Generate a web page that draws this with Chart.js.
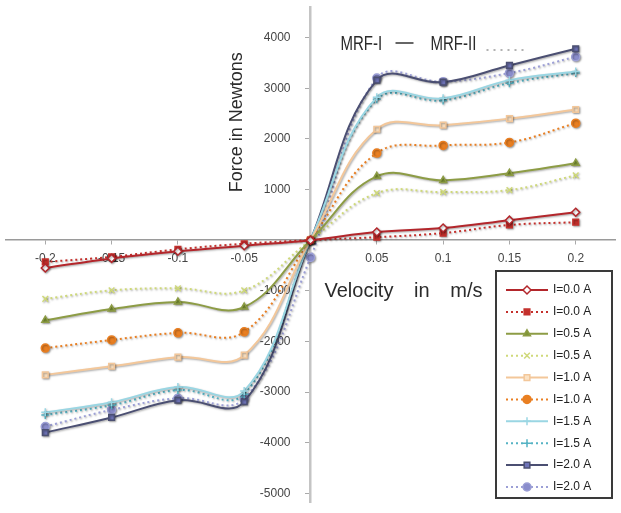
<!DOCTYPE html>
<html>
<head>
<meta charset="utf-8">
<script src="https://cdn.jsdelivr.net/npm/chart.js@4.4.1/dist/chart.umd.min.js"></script>
<style>
  body { margin: 0; background: #fff; }
  canvas { display: block; }
</style>
</head>
<body>
<canvas id="myChart" width="621" height="513"></canvas>
<script>
// Datos: velocidad (m/s) en el eje x
const velocity = [-0.2, -0.15, -0.1, -0.05, 0, 0.05, 0.1, 0.15, 0.2];

// Fuerza (N) para cada corriente, MRF-I (linea continua) y MRF-II (punteada)
const mrf1_i00 = [-550, -360, -220, -110, 0, 160, 240, 395, 550];
const mrf2_i00 = [-430, -330, -180, -70, 0, 60, 140, 300, 355];
const mrf1_i05 = [-1580, -1360, -1220, -1320, 0, 1260, 1180, 1320, 1520];
const mrf2_i05 = [-1160, -990, -950, -990, 0, 930, 950, 990, 1280];
const mrf1_i10 = [-2660, -2490, -2310, -2270, 0, 2190, 2270, 2400, 2580];
const mrf2_i10 = [-2130, -1970, -1830, -1810, 0, 1720, 1870, 1930, 2310];
const mrf1_i15 = [-3400, -3200, -2900, -2980, 0, 2820, 2800, 3160, 3330];
const mrf2_i15 = [-3450, -3260, -2960, -3040, 0, 2780, 2760, 3100, 3300];
const mrf1_i20 = [-3800, -3500, -3160, -3190, 0, 3160, 3120, 3450, 3780];
const mrf2_i20 = [-3680, -3350, -3120, -3130, -340, 3200, 3130, 3300, 3620];

const seriesLabels = ['I=0.0 A', 'I=0.0 A', 'I=0.5 A', 'I=0.5 A', 'I=1.0 A',
                      'I=1.0 A', 'I=1.5 A', 'I=1.5 A', 'I=2.0 A', 'I=2.0 A'];
const seriesValues = [mrf1_i00, mrf2_i00, mrf1_i05, mrf2_i05, mrf1_i10,
                      mrf2_i10, mrf1_i15, mrf2_i15, mrf1_i20, mrf2_i20];

// Ticks
const xTickValues = [-0.2, -0.15, -0.1, -0.05, 0.05, 0.1, 0.15, 0.2];
const xTickLabels = ['-0.2', '-0.15', '-0.1', '-0.05', '0.05', '0.1', '0.15', '0.2'];
const yTickValues = [4000, 3000, 2000, 1000, -1000, -2000, -3000, -4000, -5000];
const yTickLabels = ['4000', '3000', '2000', '1000', '-1000', '-2000', '-3000', '-4000', '-5000'];

// estilos de cada serie
const styles = [
  {color: '#b3262b', fill: '#ffffff', point: 'rectRot', dash: []},
  {color: '#c4302c', fill: '#c4302c', point: 'rect', dash: [2, 3]},
  {color: '#8d9c45', fill: '#7f9636', point: 'triangle', dash: []},
  {color: '#cfd97a', fill: '#cfd97a', point: 'crossRot', dash: [2, 3]},
  {color: '#f3c79a', fill: '#fbe2c4', point: 'rect', dash: []},
  {color: '#e97f22', fill: '#e97f22', point: 'circle', dash: [2, 3]},
  {color: '#9ad6e3', fill: '#9ad6e3', point: 'cross', dash: []},
  {color: '#55b3c4', fill: '#55b3c4', point: 'cross', dash: [2, 3]},
  {color: '#4b4f72', fill: '#6f74b8', point: 'rect', dash: []},
  {color: '#9c9fd6', fill: '#8a8dcc', point: 'circle', dash: [2, 3]}
];

const datasets = seriesValues.map((vals, i) => ({
  label: seriesLabels[i],
  data: vals.map((v, k) => ({x: velocity[k], y: v})),
  borderColor: styles[i].color,
  backgroundColor: styles[i].fill,
  pointBackgroundColor: styles[i].fill,
  pointBorderColor: styles[i].color,
  pointStyle: styles[i].point,
  pointRadius: 4,
  pointBorderWidth: 1.5,
  borderWidth: 2,
  borderDash: styles[i].dash,
  tension: 0.4,
  fill: false
}));

// sombra de las lineas + textos + leyenda
const extras = {
  id: 'extras',
  beforeDatasetsDraw(chart) {
    const ctx = chart.ctx;
    ctx.save();
    ctx.shadowColor = 'rgba(0,0,0,0.35)';
    ctx.shadowBlur = 2;
    ctx.shadowOffsetX = 1;
    ctx.shadowOffsetY = 1;
  },
  afterDatasetsDraw(chart) {
    chart.ctx.restore();
  },
  afterDraw(chart) {
    const ctx = chart.ctx;
    const xs = chart.scales.x, ys = chart.scales.y;
    const x0 = xs.getPixelForValue(0), y0 = ys.getPixelForValue(0);

    ctx.save();
    ctx.fillStyle = '#2b2b2b';
    ctx.textBaseline = 'alphabetic';

    // titulo eje x
    ctx.font = '20px "Liberation Sans", Arial, sans-serif';
    spread(ctx, ['Velocity', 'in', 'm/s'], x0 + 14, y0 + 57, 158);

    // titulo eje y
    ctx.save();
    ctx.translate(x0 - 69, y0 - 48);
    ctx.rotate(-Math.PI / 2);
    ctx.font = '18px "Liberation Sans", Arial, sans-serif';
    spread(ctx, ['Force', 'in', 'Newtons'], 0, 0, 140);
    ctx.restore();

    // MRF-I  —  MRF-II ....
    ctx.save();
    ctx.translate(x0 + 30, 50);
    ctx.scale(0.75, 1);
    ctx.font = '20px "Liberation Sans", Arial, sans-serif';
    ctx.fillText('MRF-I', 0, 0);
    ctx.fillText('MRF-II', 120, 0);
    ctx.restore();
    ctx.strokeStyle = '#333';
    ctx.lineWidth = 1.5;
    ctx.beginPath();
    ctx.moveTo(x0 + 85, 43);
    ctx.lineTo(x0 + 103, 43);
    ctx.stroke();
    ctx.strokeStyle = '#999';
    ctx.setLineDash([2, 5]);
    ctx.beginPath();
    ctx.moveTo(x0 + 176, 50);
    ctx.lineTo(x0 + 216, 50);
    ctx.stroke();
    ctx.setLineDash([]);

    // leyenda
    const box = {left: 496, top: 271, right: 612, bottom: 498};
    ctx.strokeStyle = '#3a3a3a';
    ctx.lineWidth = 2;
    ctx.strokeRect(box.left, box.top, box.right - box.left, box.bottom - box.top);
    const step = (box.bottom - box.top - 30) / (datasets.length - 1);
    ctx.font = '12px "Liberation Sans", Arial, sans-serif';
    ctx.textBaseline = 'middle';
    datasets.forEach((ds, i) => {
      const y = box.top + 19 + i * step;
      ctx.strokeStyle = ds.borderColor;
      ctx.lineWidth = 2;
      ctx.setLineDash(ds.borderDash);
      ctx.beginPath();
      ctx.moveTo(box.left + 10, y);
      ctx.lineTo(box.left + 52, y);
      ctx.stroke();
      ctx.setLineDash([]);
      ctx.fillStyle = ds.pointBackgroundColor;
      ctx.strokeStyle = ds.pointBorderColor;
      ctx.lineWidth = 1.5;
      Chart.helpers.drawPoint(ctx, {pointStyle: ds.pointStyle, radius: 4, rotation: 0, borderWidth: 1.5}, box.left + 31, y);
      ctx.fillStyle = '#222';
      ctx.fillText(ds.label, box.left + 57, y);
    });
    ctx.restore();
  }
};

function spread(ctx, words, x, y, total) {
  const widths = words.map(w => ctx.measureText(w).width);
  const gap = (total - widths.reduce((a, b) => a + b, 0)) / (words.length - 1);
  let cx = x;
  words.forEach((w, i) => {
    ctx.fillText(w, cx, y);
    cx += widths[i] + gap;
  });
}

const configData = {
  type: 'line',
  data: {datasets: datasets},
  options: {
    responsive: false,
    animation: false,
    layout: {padding: {left: 4, right: 4, top: 3, bottom: 11}},
    plugins: {
      legend: {display: false},
      tooltip: {enabled: false}
    },
    scales: {
      x: {
        type: 'linear',
        min: -0.23,
        max: 0.23,
        position: {y: 0},
        afterBuildTicks: s => { s.ticks = xTickValues.map(v => ({value: v})); },
        ticks: {
          callback: v => xTickLabels[xTickValues.indexOf(v)],
          color: '#444',
          font: {size: 12, family: '"Liberation Sans", Arial, sans-serif'},
          padding: 7,
          autoSkip: false,
          maxRotation: 0
        },
        grid: {drawOnChartArea: false, tickLength: 4, color: '#aaa'},
        border: {color: '#9a9a9a', width: 1.5}
      },
      y: {
        type: 'linear',
        min: -5170,
        max: 4600,
        position: {x: 0},
        afterBuildTicks: s => { s.ticks = yTickValues.map(v => ({value: v})); },
        ticks: {
          // espacios al final para separar la etiqueta del eje
          callback: v => yTickLabels[yTickValues.indexOf(v)] + '\u2007\u2007\u2007',
          color: '#444',
          font: {size: 12, family: '"Liberation Sans", Arial, sans-serif'},
          padding: 0,
          autoSkip: false
        },
        grid: {drawOnChartArea: false, tickLength: 4, color: '#aaa'},
        border: {color: '#c4c4c4', width: 2.5}
      }
    }
  },
  plugins: [extras]
};

const chartDOM = document.getElementById('myChart');
new Chart(chartDOM, configData);
</script>
</body>
</html>
